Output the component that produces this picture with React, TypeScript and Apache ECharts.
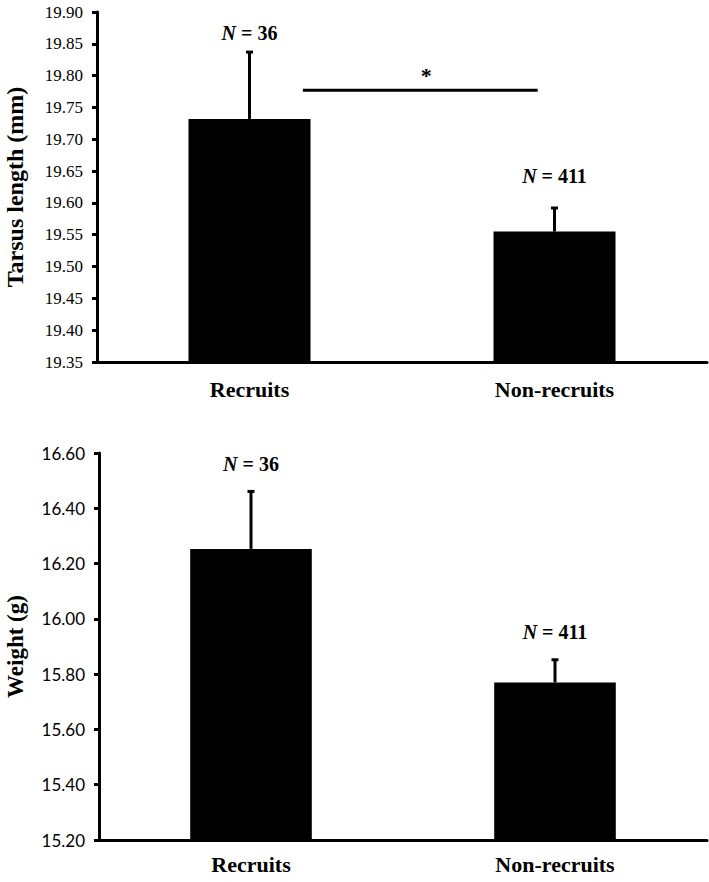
import React, { useEffect, useRef } from "react";
import * as echarts from "echarts";

const categories = ["Recruits", "Non-recruits"];

// Top panel: tarsus length (mm)
const tarsusMeans = [19.732, 19.555];
const tarsusUpper = [19.837, 19.592];
const tarsusN = ["36", "411"];
const tarsusNLabelY = [19.867, 19.643];
const tarsusTicks = { min: 19.35, max: 19.9, interval: 0.05 };
const tarsusTickLabels = [19.35, 19.4, 19.45, 19.5, 19.55, 19.6, 19.65, 19.7, 19.75, 19.8, 19.85, 19.9];
const tarsusSigY = 19.777;

// Bottom panel: weight (g)
const weightMeans = [16.253, 15.77];
const weightUpper = [16.461, 15.852];
const weightN = ["36", "411"];
const weightNLabelY = [16.56, 15.954];
const weightTicks = { min: 15.2, max: 16.6, interval: 0.2 };
const weightTickLabels = [15.2, 15.4, 15.6, 15.8, 16.0, 16.2, 16.4, 16.6];

const SERIF = "Liberation Serif";
const SERIF_REGULAR = "Liberation Serif, Times New Roman, DejaVu Serif, serif";
const SANS = "Lato";

function errorBarItem(params: any, api: any) {
  const x = api.value(0);
  const p0 = api.coord([x, api.value(1)]);
  const p1 = api.coord([x, api.value(2)]);
  const style = { stroke: "#000", lineWidth: 3 };
  return {
    type: "group",
    children: [
      { type: "line", shape: { x1: p0[0], y1: p0[1], x2: p1[0], y2: p1[1] }, style },
      { type: "line", shape: { x1: p1[0] - 3.5, y1: p1[1], x2: p1[0] + 3.5, y2: p1[1] }, style },
    ],
  };
}

function nLabelItem(api: any, n: string) {
  const x = api.value(0);
  const p = api.coord([x, api.value(1)]);
  return {
    type: "text",
    x: p[0],
    y: p[1],
    style: {
      text: "{i|N}{b| = " + n + "}",
      align: "center",
      verticalAlign: "middle",
      rich: {
        i: { fontFamily: SERIF, fontStyle: "italic", fontWeight: "bold", fontSize: 20, fill: "#000" },
        b: { fontFamily: SERIF, fontWeight: "bold", fontSize: 20, fill: "#000" },
      },
    },
  };
}

function tickLabelItem(font: string, size: number) {
  return (params: any, api: any) => {
    const v = api.value(1);
    const p = api.coord([0, v]);
    const left = params.coordSys.x;
    return {
      type: "text",
      x: left - 14,
      y: p[1],
      style: {
        text: Number(v).toFixed(2),
        align: "right",
        verticalAlign: "middle",
        fontFamily: font,
        fontWeight: "normal",
        fontSize: size,
        fill: "#000",
      },
    };
  };
}

function sigItem(params: any, api: any) {
  const y = api.value(1);
  const a = api.coord([0, y]);
  const b = api.coord([1, y]);
  const band = b[0] - a[0];
  const x1 = a[0] + band * 0.175;
  const x2 = b[0] - band * 0.055;
  return {
    type: "group",
    children: [
      { type: "line", shape: { x1, y1: a[1], x2, y2: a[1] }, style: { stroke: "#000", lineWidth: 3 } },
      {
        type: "text",
        x: (x1 + x2) / 2 + 6,
        y: a[1] - 4,
        style: { text: "*", align: "center", verticalAlign: "bottom", fontFamily: SERIF, fontWeight: "bold", fontSize: 22, fill: "#000" },
      },
    ],
  };
}

export default function App() {
  const ref = useRef<HTMLDivElement>(null);
  useEffect(() => {
    document.body.style.margin = "0";
    const chart = echarts.init(ref.current!, null, { renderer: "svg" });

    const axisLineStyle = { show: true, lineStyle: { color: "#000", width: 3 } };
    const tickStyle = { show: true, length: 5, lineStyle: { color: "#000", width: 3 } };
    const nameStyle = (size: number) => ({ fontFamily: SERIF, fontWeight: "bold", fontSize: size, color: "#000" });

    const xAxisBase = (gridIndex: number, margin: number) => ({
      type: "category",
      gridIndex,
      data: categories,
      axisLine: axisLineStyle,
      axisTick: { show: false },
      axisLabel: { margin, fontFamily: SERIF, fontWeight: "bold", fontSize: 22, color: "#000" },
    });

    chart.setOption({
      animation: false,
      backgroundColor: "#fff",
      grid: [
        { left: 97, right: 2, top: 12, height: 350, outerBoundsMode: "none" },
        { left: 99, right: 2, top: 453, height: 387, outerBoundsMode: "none" },
      ],
      xAxis: [xAxisBase(0, 16), xAxisBase(1, 13)],
      yAxis: [
        {
          type: "value",
          gridIndex: 0,
          min: tarsusTicks.min,
          max: tarsusTicks.max,
          interval: tarsusTicks.interval,
          name: "Tarsus length (mm)",
          nameLocation: "middle",
          nameRotate: 90,
          nameGap: 70,
          nameTextStyle: nameStyle(24),
          axisLine: axisLineStyle,
          axisTick: tickStyle,
          splitLine: { show: false },
          axisLabel: { show: false },
        },
        {
          type: "value",
          gridIndex: 1,
          min: weightTicks.min,
          max: weightTicks.max,
          interval: weightTicks.interval,
          name: "Weight (g)",
          nameLocation: "middle",
          nameRotate: 90,
          nameGap: 72,
          nameTextStyle: nameStyle(23),
          axisLine: axisLineStyle,
          axisTick: tickStyle,
          splitLine: { show: false },
          axisLabel: { show: false },
        },
      ],
      series: [
        {
          type: "bar",
          xAxisIndex: 0,
          yAxisIndex: 0,
          data: tarsusMeans,
          barWidth: "40%",
          itemStyle: { color: "#000" },
        },
        {
          type: "custom",
          xAxisIndex: 0,
          yAxisIndex: 0,
          renderItem: errorBarItem,
          data: tarsusMeans.map((m, i) => [i, m, tarsusUpper[i]]),
          z: 3,
        },
        {
          type: "custom",
          xAxisIndex: 0,
          yAxisIndex: 0,
          renderItem: (p: any, api: any) => nLabelItem(api, tarsusN[p.dataIndex]),
          data: tarsusNLabelY.map((y, i) => [i, y]),
        },
        {
          type: "custom",
          xAxisIndex: 0,
          yAxisIndex: 0,
          renderItem: sigItem,
          data: [[0, tarsusSigY]],
        },
        {
          type: "custom",
          xAxisIndex: 0,
          yAxisIndex: 0,
          clip: false,
          renderItem: tickLabelItem(SERIF_REGULAR, 17),
          data: tarsusTickLabels.map((v) => [0, v]),
        },
        {
          type: "bar",
          xAxisIndex: 1,
          yAxisIndex: 1,
          data: weightMeans,
          barWidth: "40%",
          itemStyle: { color: "#000" },
        },
        {
          type: "custom",
          xAxisIndex: 1,
          yAxisIndex: 1,
          renderItem: errorBarItem,
          data: weightMeans.map((m, i) => [i, m, weightUpper[i]]),
          z: 3,
        },
        {
          type: "custom",
          xAxisIndex: 1,
          yAxisIndex: 1,
          renderItem: (p: any, api: any) => nLabelItem(api, weightN[p.dataIndex]),
          data: weightNLabelY.map((y, i) => [i, y]),
        },
        {
          type: "custom",
          xAxisIndex: 1,
          yAxisIndex: 1,
          clip: false,
          renderItem: tickLabelItem(SANS, 17),
          data: weightTickLabels.map((v) => [0, v]),
        },
      ],
    });
    return () => chart.dispose();
  }, []);
  return <div ref={ref} style={{ width: 709, height: 882 }} />;
}
